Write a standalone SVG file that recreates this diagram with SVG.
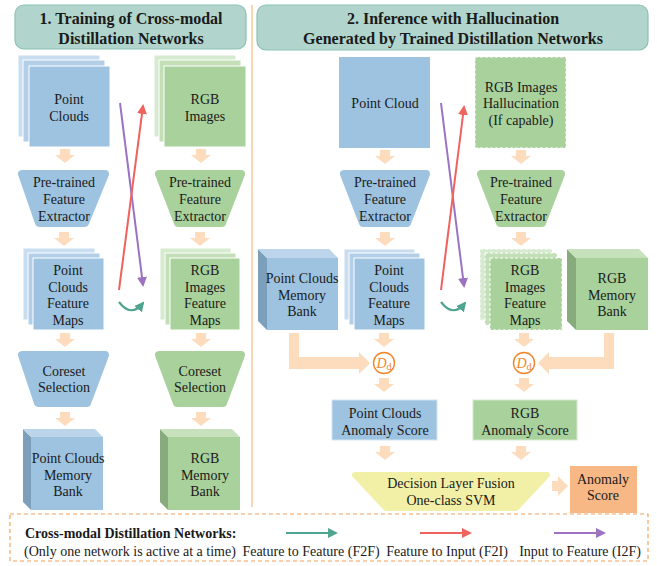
<svg xmlns="http://www.w3.org/2000/svg" width="657" height="566" viewBox="0 0 657 566" font-family="'Liberation Serif', 'DejaVu Serif', serif">
  <style>
    text { font-family: 'Liberation Serif', 'DejaVu Serif', serif; font-size: 14px; fill: #1a1a1a; text-anchor: middle; }
    .hdr { fill: #b1d5cc; stroke: #8ac2b4; stroke-width: 1.2; }
    .hdrt { font-weight: bold; font-size: 16px; }
    .blue { fill: #9dc3e0; }
    .blue2 { fill: #b3cfe8; stroke: #fff; stroke-width: 1; }
    .blue3 { fill: #c8ddef; stroke: #fff; stroke-width: 1; }
    .blueF { fill: #9dc3e0; stroke: #fff; stroke-width: 1; }
    .green { fill: #a9d19c; }
    .green2 { fill: #c2dfb7; stroke: #fff; stroke-width: 1; }
    .green3 { fill: #d6eacf; stroke: #fff; stroke-width: 1; }
    .greenF { fill: #a9d19c; stroke: #fff; stroke-width: 1; }
    .dash { stroke-dasharray: 3 2; }
    .trapB { fill: #9dc3e0; stroke: #9dc3e0; stroke-width: 8; stroke-linejoin: round; }
    .trapG { fill: #a9d19c; stroke: #a9d19c; stroke-width: 8; stroke-linejoin: round; }
    .sideB { fill: #7c9fbc; }
    .topB { fill: #bcd5ea; }
    .sideG { fill: #88ab7d; }
    .topG { fill: #c6e1bc; }
    .flow { fill: #fddcbd; }
    .red { stroke: #ef625d; stroke-width: 2; fill: none; }
    .purple { stroke: #9c73c2; stroke-width: 2; fill: none; }
    .teal { stroke: #4fa391; stroke-width: 2.2; fill: none; }
    .dd { fill: #fff; stroke: #f0862a; stroke-width: 1.4; }
    .ddt { fill: #f0862a; font-size: 14px; }
    .leg { text-anchor: start; }
  </style>
  <defs>
    <marker id="ahRed" viewBox="0 0 10 10" refX="8" refY="5" markerWidth="5" markerHeight="5" orient="auto" markerUnits="strokeWidth">
      <path d="M0,0 L10,5 L0,10 Z" fill="#ef625d"/>
    </marker>
    <marker id="ahPurple" viewBox="0 0 10 10" refX="8" refY="5" markerWidth="5" markerHeight="5" orient="auto" markerUnits="strokeWidth">
      <path d="M0,0 L10,5 L0,10 Z" fill="#9c73c2"/>
    </marker>
    <marker id="ahTeal" viewBox="0 0 10 10" refX="8" refY="5" markerWidth="4.5" markerHeight="4.5" orient="auto" markerUnits="strokeWidth">
      <path d="M0,0 L10,5 L0,10 Z" fill="#4fa391"/>
    </marker>
    <!-- fat downward flow arrow, origin at top centre -->
    <path id="down" d="M-5,0 H5 V6 H10 L0,14 L-10,6 H-5 Z"/>
  </defs>

  <rect width="657" height="566" fill="#fff"/>

  <!-- section headers -->
  <g id="header-training">
    <rect class="hdr" x="15" y="5" width="231" height="44" rx="9"/>
    <text class="hdrt" x="131" y="24">1. Training of Cross-modal</text>
    <text class="hdrt" x="131" y="44">Distillation Networks</text>
  </g>
  <g id="header-inference">
    <rect class="hdr" x="257" y="5" width="391" height="45" rx="9"/>
    <text class="hdrt" x="453" y="24">2. Inference with Hallucination</text>
    <text class="hdrt" x="453" y="44">Generated by Trained Distillation Networks</text>
  </g>

  <!-- divider between the two stages -->
  <line x1="252" y1="5" x2="252" y2="507" stroke="#f9c89d" stroke-width="1.5"/>

  <!-- ===== Training stage ===== -->
  <g id="t-pc-input">
    <rect class="blue3" x="18" y="55" width="82" height="82"/>
    <rect class="blue2" x="23" y="60" width="82" height="82"/>
    <rect class="blueF" x="29" y="66" width="81" height="81"/>
    <text x="69" y="104">Point</text>
    <text x="69" y="121">Clouds</text>
  </g>
  <g id="t-rgb-input">
    <rect class="green3" x="154" y="55" width="82" height="82"/>
    <rect class="green2" x="159" y="60" width="82" height="82"/>
    <rect class="greenF" x="164" y="66" width="82" height="81"/>
    <text x="205" y="104">RGB</text>
    <text x="205" y="121">Images</text>
  </g>
  <g id="t-pc-extractor">
    <polygon class="trapB" points="22,174 105,174 85,223 39,223"/>
    <text x="64" y="187">Pre-trained</text>
    <text x="64" y="204">Feature</text>
    <text x="64" y="221">Extractor</text>
  </g>
  <g id="t-rgb-extractor">
    <polygon class="trapG" points="159,174 241,174 222,223 178,223"/>
    <text x="200" y="187">Pre-trained</text>
    <text x="200" y="204">Feature</text>
    <text x="200" y="221">Extractor</text>
  </g>
  <g id="t-pc-featmaps">
    <rect class="blue3" x="23" y="248" width="72" height="72"/>
    <rect class="blue2" x="28" y="253" width="72" height="72"/>
    <rect class="blueF" x="33" y="258" width="71" height="72"/>
    <text x="68" y="275">Point</text>
    <text x="68" y="292">Clouds</text>
    <text x="68" y="308">Feature</text>
    <text x="68" y="325">Maps</text>
  </g>
  <g id="t-rgb-featmaps">
    <rect class="green3" x="160" y="248" width="71" height="72"/>
    <rect class="green2" x="165" y="253" width="71" height="72"/>
    <rect class="greenF" x="170" y="258" width="70" height="72"/>
    <text x="205" y="275">RGB</text>
    <text x="205" y="292">Images</text>
    <text x="205" y="308">Feature</text>
    <text x="205" y="325">Maps</text>
  </g>
  <g id="t-pc-coreset">
    <polygon class="trapB" points="22,355 105,355 87,403 38,403"/>
    <text x="64" y="376">Coreset</text>
    <text x="64" y="392">Selection</text>
  </g>
  <g id="t-rgb-coreset">
    <polygon class="trapG" points="159,355 241,355 223,403 177,403"/>
    <text x="200" y="376">Coreset</text>
    <text x="200" y="392">Selection</text>
  </g>
  <g id="t-pc-bank">
    <polygon class="sideB" points="23,429 31,437 31,510 23,502"/>
    <polygon class="topB" points="23,429 95,429 103,437 31,437"/>
    <rect class="blue" x="31" y="437" width="72" height="73"/>
    <text x="68" y="463">Point Clouds</text>
    <text x="68" y="480">Memory</text>
    <text x="68" y="496">Bank</text>
  </g>
  <g id="t-rgb-bank">
    <polygon class="sideG" points="160,429 168,437 168,510 160,502"/>
    <polygon class="topG" points="160,429 232,429 240,437 168,437"/>
    <rect class="green" x="168" y="437" width="72" height="73"/>
    <text x="205" y="463">RGB</text>
    <text x="205" y="480">Memory</text>
    <text x="205" y="496">Bank</text>
  </g>

  <!-- ===== Inference stage ===== -->
  <g id="i-pc-input">
    <rect class="blue" x="339" y="57" width="91" height="91"/>
    <text x="385" y="108">Point Cloud</text>
  </g>
  <g id="i-rgb-halluc">
    <rect class="greenF dash" x="475" y="57" width="91" height="91"/>
    <text x="521" y="92">RGB Images</text>
    <text x="521" y="108">Hallucination</text>
    <text x="521" y="125">(If capable)</text>
  </g>
  <g id="i-pc-extractor">
    <polygon class="trapB" points="344,174 426,174 407,223 363,223"/>
    <text x="385" y="187">Pre-trained</text>
    <text x="385" y="204">Feature</text>
    <text x="385" y="221">Extractor</text>
  </g>
  <g id="i-rgb-extractor">
    <polygon class="trapG" points="481,174 561,174 542,223 500,223"/>
    <text x="521" y="187">Pre-trained</text>
    <text x="521" y="204">Feature</text>
    <text x="521" y="221">Extractor</text>
  </g>
  <g id="i-pc-bank">
    <polygon class="sideB" points="258,249 267,258 267,330 258,321"/>
    <polygon class="topB" points="258,249 329,249 338,258 267,258"/>
    <rect class="blue" x="267" y="258" width="71" height="72"/>
    <text x="302" y="283">Point Clouds</text>
    <text x="302" y="300">Memory</text>
    <text x="302" y="316">Bank</text>
  </g>
  <g id="i-pc-featmaps">
    <rect class="blue3" x="344" y="249" width="71" height="71"/>
    <rect class="blue2" x="349" y="253" width="71" height="72"/>
    <rect class="blueF" x="354" y="258" width="71" height="72"/>
    <text x="389" y="275">Point</text>
    <text x="389" y="292">Clouds</text>
    <text x="389" y="308">Feature</text>
    <text x="389" y="325">Maps</text>
  </g>
  <g id="i-rgb-featmaps">
    <rect class="green3 dash" x="480" y="249" width="72" height="71"/>
    <rect class="green2 dash" x="485" y="253" width="72" height="72"/>
    <rect class="greenF dash" x="490" y="258" width="72" height="72"/>
    <text x="525" y="275">RGB</text>
    <text x="525" y="292">Images</text>
    <text x="525" y="308">Feature</text>
    <text x="525" y="325">Maps</text>
  </g>
  <g id="i-rgb-bank">
    <polygon class="sideG" points="567,249 576,258 576,330 567,321"/>
    <polygon class="topG" points="567,249 639,249 648,258 576,258"/>
    <rect class="green" x="576" y="258" width="72" height="72"/>
    <text x="612" y="283">RGB</text>
    <text x="612" y="300">Memory</text>
    <text x="612" y="316">Bank</text>
  </g>
  <g id="i-pc-dist">
    <circle class="dd" cx="384" cy="363" r="10.5"/>
    <text class="ddt" x="384" y="368"><tspan font-style="italic">D</tspan><tspan font-size="10" dy="2">d</tspan></text>
  </g>
  <g id="i-rgb-dist">
    <circle class="dd" cx="524" cy="363" r="10.5"/>
    <text class="ddt" x="524" y="368"><tspan font-style="italic">D</tspan><tspan font-size="10" dy="2">d</tspan></text>
  </g>
  <g id="i-pc-score">
    <rect class="blue" x="332" y="400" width="105" height="40" stroke="#d3e4f2" stroke-width="1"/>
    <text x="385" y="418">Point Clouds</text>
    <text x="385" y="435">Anomaly Score</text>
  </g>
  <g id="i-rgb-score">
    <rect class="green" x="473" y="400" width="104" height="40" stroke="#d4e9cd" stroke-width="1"/>
    <text x="525" y="418">RGB</text>
    <text x="525" y="435">Anomaly Score</text>
  </g>
  <g id="i-fusion">
    <polygon points="355,475 547,475 516,508 386,508" fill="#f2f0a6" stroke="#f2f0a6" stroke-width="6" stroke-linejoin="round"/>
    <text x="451" y="488">Decision Layer Fusion</text>
    <text x="451" y="505">One-class SVM</text>
  </g>
  <g id="i-final-score">
    <rect x="570" y="466" width="67" height="47" fill="#f8b885"/>
    <text x="603" y="484">Anomaly</text>
    <text x="603" y="500">Score</text>
  </g>

  <!-- connectors -->
  <g id="connectors">
    <g class="flow">
      <use href="#down" x="65" y="149"/>
      <use href="#down" x="201" y="149"/>
      <use href="#down" x="64" y="232"/>
      <use href="#down" x="200" y="232"/>
      <use href="#down" x="65" y="333"/>
      <use href="#down" x="201" y="333"/>
      <use href="#down" x="65" y="412"/>
      <use href="#down" x="201" y="412"/>

      <use href="#down" x="385" y="150"/>
      <use href="#down" x="521" y="150"/>
      <use href="#down" x="385" y="232"/>
      <use href="#down" x="521" y="232"/>
      <use href="#down" x="384" y="333"/>
      <use href="#down" x="524" y="333"/>
      <use href="#down" x="384" y="378"/>
      <use href="#down" x="524" y="378"/>
      <use href="#down" x="385" y="446"/>
      <use href="#down" x="521" y="446"/>

      <!-- memory banks into the distance blocks -->
      <path d="M289,333 H299 V357 H359 V352 L370,363 L359,374 V369 H289 Z"/>
      <path d="M614,333 H604 V357 H549 V352 L538,363 L549,374 V369 H614 Z"/>
      <!-- fusion to final score -->
      <path d="M552,481 H558 V476 L568,486 L558,496 V491 H552 Z"/>
    </g>

    <!-- cross-modal distillation, training -->
    <line class="purple" x1="120" y1="103" x2="143" y2="285" marker-end="url(#ahPurple)"/>
    <line class="red" x1="119" y1="290" x2="143" y2="106" marker-end="url(#ahRed)"/>
    <path class="teal" d="M119,302 Q131,318 143,303" marker-end="url(#ahTeal)"/>

    <!-- cross-modal distillation, inference -->
    <line class="purple" x1="441" y1="103" x2="464" y2="286" marker-end="url(#ahPurple)"/>
    <line class="red" x1="441" y1="290" x2="464" y2="107" marker-end="url(#ahRed)"/>
    <path class="teal" d="M441,302 Q453,318 465,303" marker-end="url(#ahTeal)"/>
  </g>

  <!-- legend -->
  <g id="legend">
    <rect x="10" y="514" width="638" height="47" fill="none" stroke="#f4a259" stroke-width="1.2" stroke-dasharray="4 3"/>
    <text class="leg" x="25" y="538" font-weight="bold">Cross-modal Distillation Networks:</text>
    <text class="leg" x="24" y="556">(Only one network is active at a time)</text>
    <line class="teal" x1="286" y1="533" x2="336" y2="533" marker-end="url(#ahTeal)"/>
    <line class="red" x1="420" y1="533" x2="470" y2="533" marker-end="url(#ahRed)"/>
    <line class="purple" x1="554" y1="533" x2="604" y2="533" marker-end="url(#ahPurple)"/>
    <text x="311" y="556">Feature to Feature (F2F)</text>
    <text x="447" y="556">Feature to Input (F2I)</text>
    <text x="580" y="556">Input to Feature (I2F)</text>
  </g>
</svg>
